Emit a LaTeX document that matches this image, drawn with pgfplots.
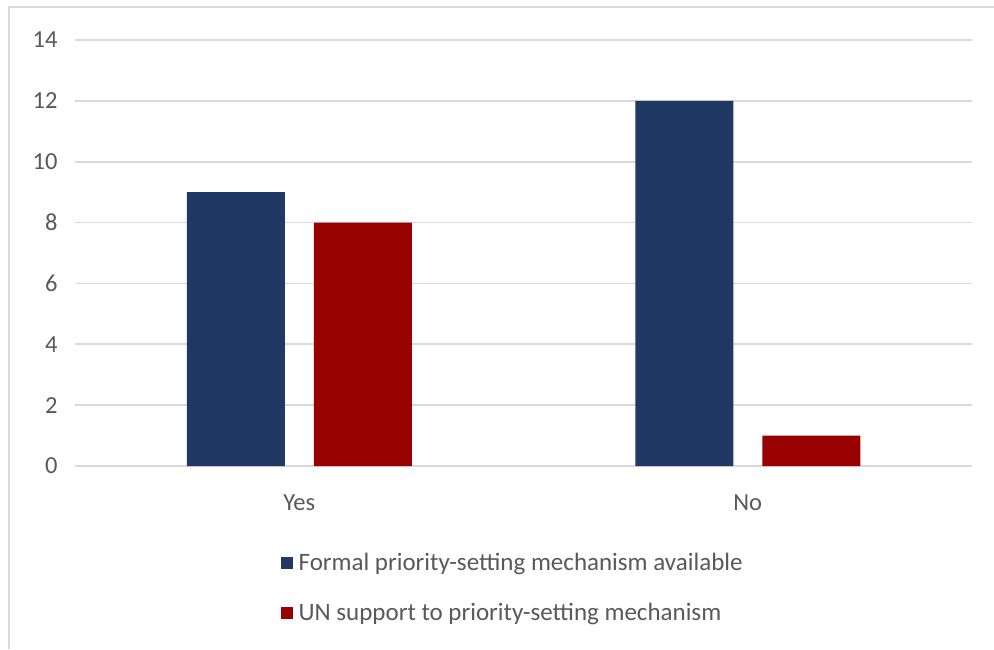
\documentclass[border=0pt]{standalone}
\usepackage{fontspec}
\setmainfont{Carlito}
\usepackage{pgfplots}
\pgfplotsset{compat=1.18}
\definecolor{barblue}{RGB}{31,56,100}
\definecolor{barred}{RGB}{153,0,0}
\definecolor{gridgray}{RGB}{217,217,217}
\definecolor{textgray}{RGB}{89,89,89}
\definecolor{framegray}{RGB}{217,217,217}
\begin{document}
\begin{tikzpicture}[x=1pt,y=1pt]
\useasboundingbox (0,0) rectangle (994,649);
% chart frame (left and top edges)
\draw[framegray, line width=2pt] (9,0) -- (9,642) -- (994,642);
\begin{axis}[
  at={(75pt,183pt)}, anchor=south west,
  scale only axis, width=897pt, height=426pt,
  xmin=-0.5, xmax=1.5, ymin=0, ymax=14,
  ybar=29pt, bar width=98pt,
  xtick={0,1}, xticklabels={Yes,No},
  ytick={0,2,...,14},
  axis line style={draw=none},
  major tick length=0pt,
  ymajorgrids, grid style={gridgray, line width=1.6pt},
  tick label style={font=\fontsize{24.5}{28}\selectfont, text=textgray},
  /pgf/number format/assume math mode=true,
  yticklabel style={xshift=-14pt},
  xticklabel style={yshift=-25pt},
  legend style={draw=none, at={(0.229,-0.2)}, anchor=north west,
    font=\fontsize{25}{28}\selectfont, text=textgray,
    row sep=27pt, inner sep=0pt,
    /tikz/every even column/.append style={column sep=0pt}},
  legend cell align=left,
  legend image code/.code={\fill[#1] (0pt,-6pt) rectangle (12pt,6pt);},
  legend style={nodes={inner xsep=6pt}},
]
\addplot[fill=barblue, draw=none] coordinates {(0,9) (1,12)};
\addplot[fill=barred, draw=none] coordinates {(0,8) (1,1)};
\legend{Formal priority-setting mechanism available, UN support to priority-setting mechanism}
\end{axis}
\end{tikzpicture}
\end{document}
